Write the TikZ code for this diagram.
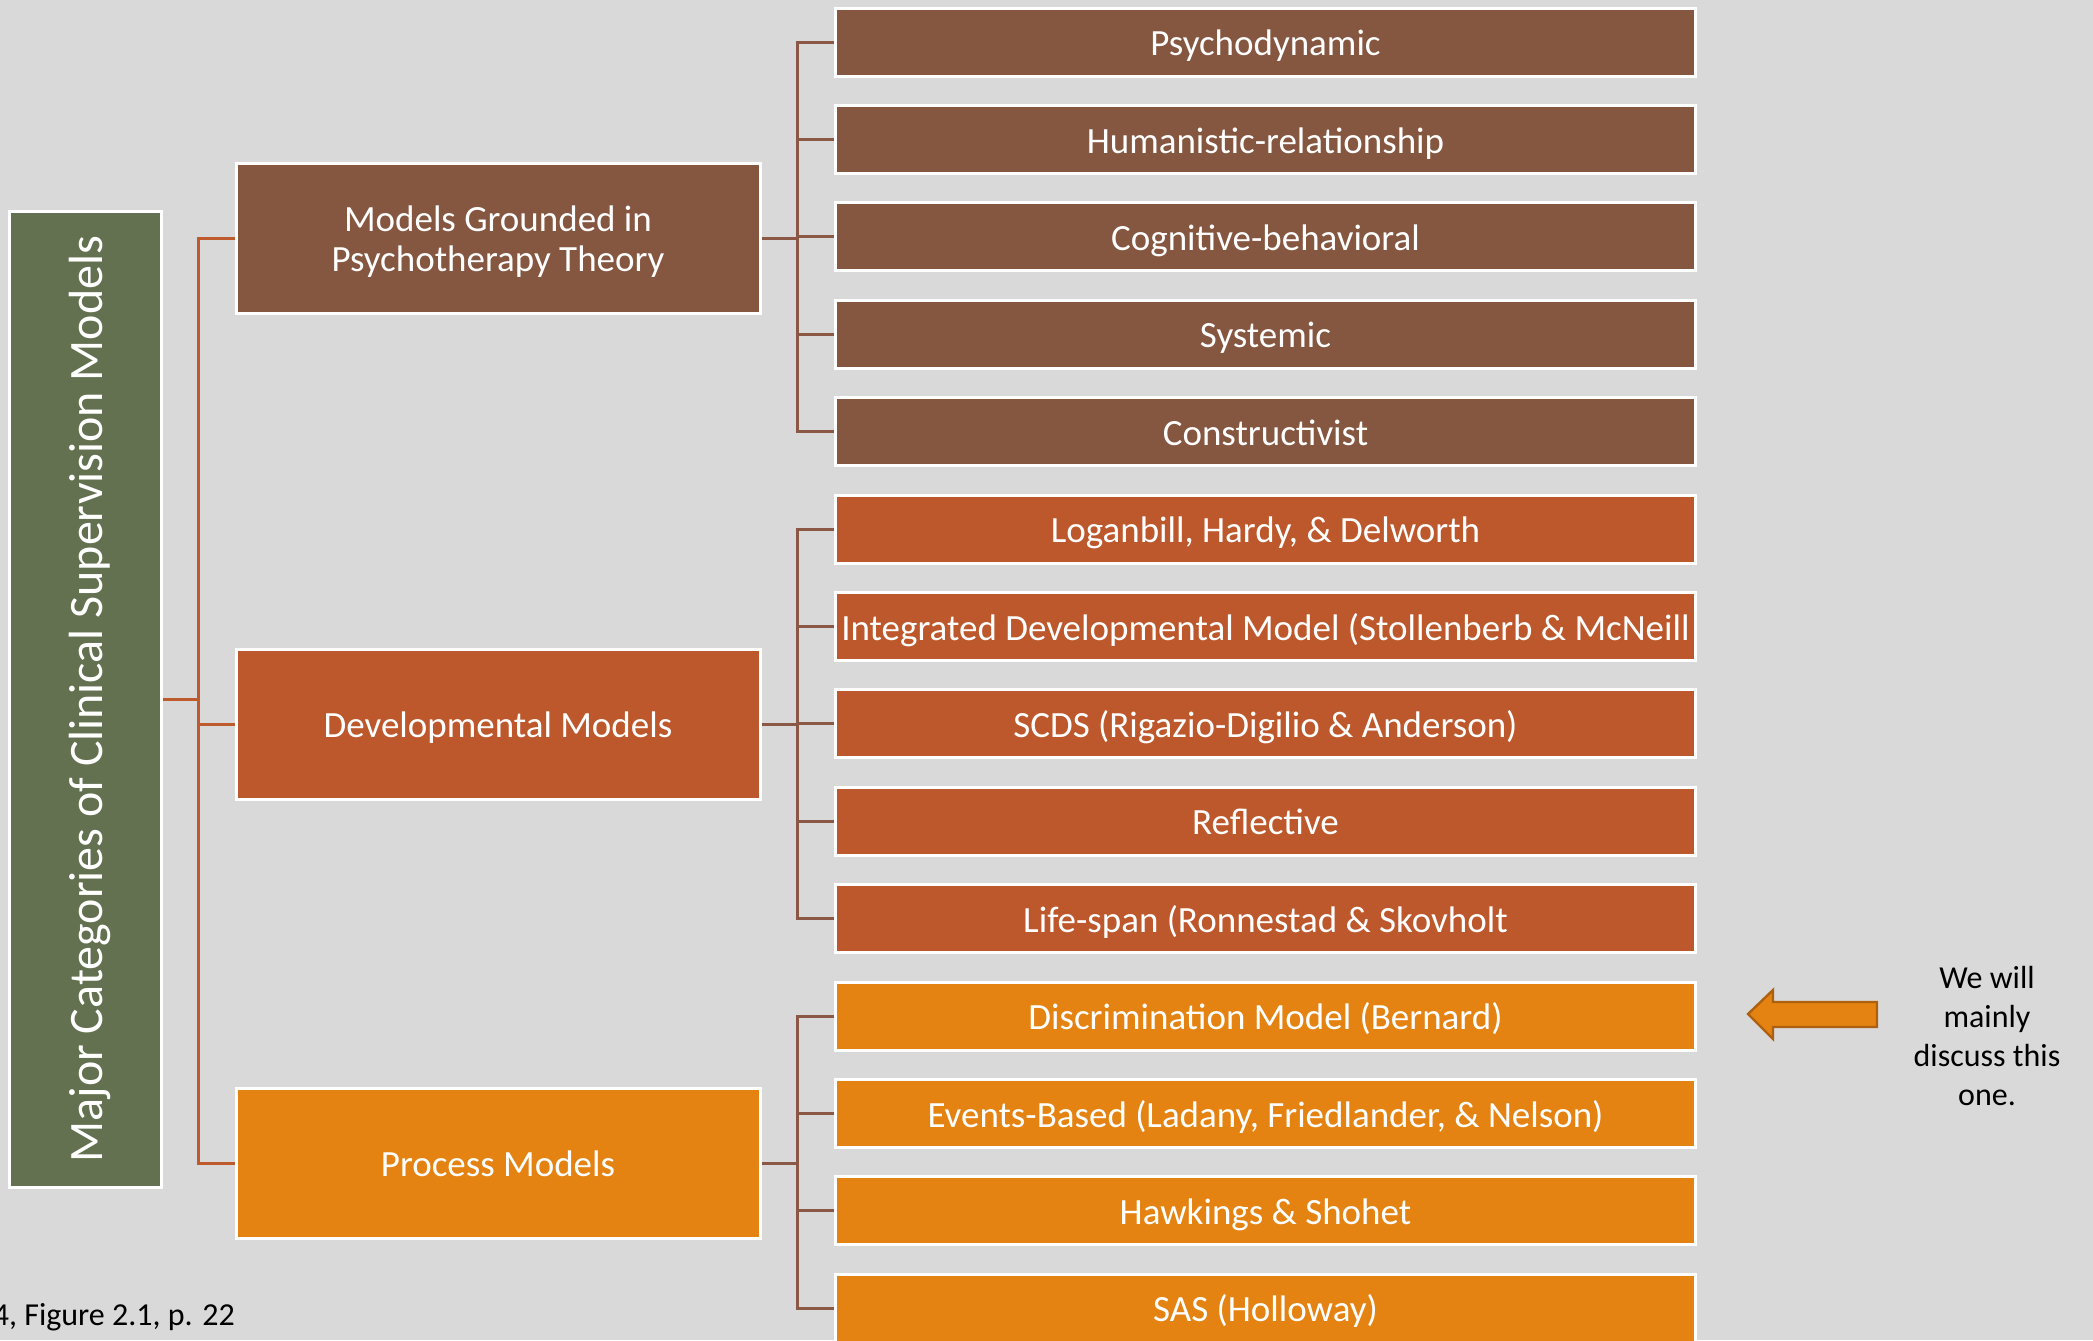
\documentclass[tikz,border=0pt]{standalone}
\usepackage{fontspec}
\setmainfont{Carlito}
\definecolor{bg}{HTML}{D9D9D9}
\definecolor{brownbox}{HTML}{855640}
\definecolor{devbox}{HTML}{BD582C}
\definecolor{procbox}{HTML}{E48312}
\definecolor{greenbox}{HTML}{637150}
\definecolor{mainline}{HTML}{BE5A2B}
\definecolor{childline}{HTML}{8A5845}
\definecolor{arrowborder}{HTML}{AD6010}
\begin{document}
\begin{tikzpicture}[x=0.5pt,y=-0.5pt,
  box/.style={draw=white, line width=1.5pt, text=white, inner sep=0pt, align=center,
    font=\fontsize{18.5}{20}\selectfont},
  oneline/.style={text height=13.6pt, text depth=0pt},
  parentbox/.style={box, minimum width=262pt, minimum height=75pt},
  childbox/.style={box, oneline, minimum width=430pt, minimum height=34pt},
  titlebox/.style={draw=white, line width=1.5pt, fill=greenbox, text=white, inner sep=0pt,
    minimum width=488pt, minimum height=76pt, rotate=90, text height=17.6pt, text depth=0pt,
    font=\fontsize{24}{28}\selectfont},
  mainconn/.style={draw=mainline, line width=1.5pt},
  childconn/.style={draw=childline, line width=1.5pt},
  note/.style={text=black, inner sep=0pt, align=center, font=\fontsize{16}{19.4}\selectfont}
]
\useasboundingbox (0,0) rectangle (2093,1340);
\clip (0,0) rectangle (2093,1340);
\fill[bg] (0,0) rectangle (2093,1340);

% title
\node[titlebox] (title) at (85,699) {Major Categories of Clinical Supervision Models};

% parents
\node[parentbox, fill=brownbox] (p1) at (498,238)
  {\raisebox{-2.6pt}[\height][\depth]{\begin{tabular}{@{}c@{}}Models Grounded in\\Psychotherapy Theory\end{tabular}}};
\node[parentbox, oneline, fill=devbox] (p2) at (498,724) {Developmental Models};
\node[parentbox, oneline, fill=procbox] (p3) at (498,1163) {Process Models};

% children
\node[childbox, fill=brownbox] (c1) at (1265.5,42) {Psychodynamic};
\node[childbox, fill=brownbox] (c2) at (1265.5,139.4) {Humanistic-relationship};
\node[childbox, fill=brownbox] (c3) at (1265.5,236.8) {Cognitive-behavioral};
\node[childbox, fill=brownbox] (c4) at (1265.5,334.2) {Systemic};
\node[childbox, fill=brownbox] (c5) at (1265.5,431.6) {Constructivist};
\node[childbox, fill=devbox] (c6) at (1265.5,529) {Loganbill, Hardy, \& Delworth};
\node[childbox, fill=devbox] (c7) at (1265.5,626.4) {Integrated Developmental Model (Stollenberb \& McNeill};
\node[childbox, fill=devbox] (c8) at (1265.5,723.8) {SCDS (Rigazio-Digilio \& Anderson)};
\node[childbox, fill=devbox] (c9) at (1265.5,821.2) {Reflective};
\node[childbox, fill=devbox] (c10) at (1265.5,918.6) {Life-span (Ronnestad \& Skovholt};
\node[childbox, fill=procbox] (c11) at (1265.5,1016) {Discrimination Model (Bernard)};
\node[childbox, fill=procbox] (c12) at (1265.5,1113.4) {Events-Based (Ladany, Friedlander, \& Nelson)};
\node[childbox, fill=procbox] (c13) at (1265.5,1210.8) {Hawkings \& Shohet};
\node[childbox, fill=procbox] (c14) at (1265.5,1308.2) {SAS (Holloway)};

% main connectors
\coordinate (mj) at (198,699);
\draw[mainconn] (title.south) -- (mj);
\draw[mainconn] (p1.west) -| (mj) |- (p3.west);
\draw[mainconn] (mj |- p2.west) -- (p2.west);

% group 1 connectors
\coordinate (g1) at (797,238);
\draw[childconn] (p1.east) -- (g1);
\draw[childconn] (c1.west) -| (g1) |- (c5.west);
\foreach \c in {c2,c3,c4} \draw[childconn] (g1 |- \c.west) -- (\c.west);

% group 2 connectors
\coordinate (g2) at (797,724);
\draw[childconn] (p2.east) -- (g2);
\draw[childconn] (c6.west) -| (g2) |- (c10.west);
\foreach \c in {c7,c8,c9} \draw[childconn] (g2 |- \c.west) -- (\c.west);

% group 3 connectors
\coordinate (g3) at (797,1163);
\draw[childconn] (p3.east) -- (g3);
\draw[childconn] (c11.west) -| (g3) |- (c14.west);
\foreach \c in {c12,c13} \draw[childconn] (g3 |- \c.west) -- (\c.west);

% arrow
\draw[fill=procbox, draw=arrowborder, line width=1.2pt]
  (1748,1014) -- (1773,990) -- (1773,1002) -- (1877,1002) -- (1877,1027) -- (1773,1027) -- (1773,1039) -- cycle;

\node[note] (remark) at (1987,1036) {We will\\mainly\\discuss this\\one.};

% footnote
\node[note, anchor=base west] (foot) at (-7.5,1325) {4, Figure 2.1, p. 22};
\end{tikzpicture}
\end{document}
